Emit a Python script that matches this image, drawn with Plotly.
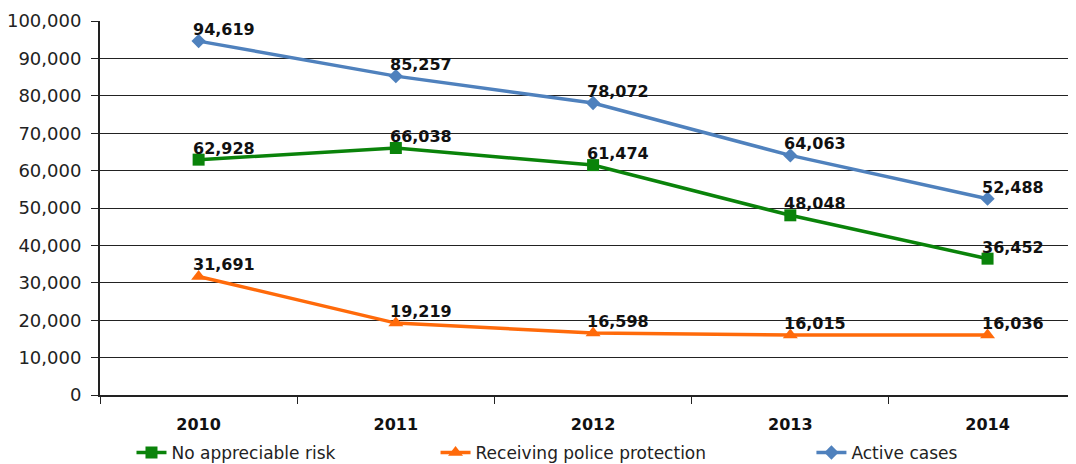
import plotly.graph_objects as go

years = ["2010", "2011", "2012", "2013", "2014"]
no_risk = [62928, 66038, 61474, 48048, 36452]
police = [31691, 19219, 16598, 16015, 16036]
active = [94619, 85257, 78072, 64063, 52488]

FONT = "DejaVu Sans"


def add_series(fig, name, values, color, symbol, size, legend, lx):
    fig.add_trace(go.Scatter(
        x=years, y=values, name=name, mode="lines+markers",
        line=dict(color=color, width=3.5),
        marker=dict(symbol=symbol, size=size, color=color),
        cliponaxis=False, legend=legend, showlegend=True,
    ))
    fig.update_layout({legend: dict(
        x=lx, xanchor="left", y=-0.155, yanchor="middle",
        font=dict(size=17), bgcolor="rgba(0,0,0,0)",
    )})
    # value labels just above each point (category index as x)
    for i, v in enumerate(values):
        fig.add_annotation(
            x=i, y=v, text=f"{v:,}", showarrow=False,
            xanchor="left", yanchor="bottom", xshift=-8, yshift=0,
            font=dict(family=FONT, size=16, color="#111111", weight="bold"),
        )


fig = go.Figure()
add_series(fig, "No appreciable risk", no_risk, "#0a830a", "square", 12, "legend", 0.032)
add_series(fig, "Receiving police protection", police, "#ff6a0a", "triangle-up", 13, "legend2", 0.341)
add_series(fig, "Active cases", active, "#4f81bd", "diamond", 11, "legend3", 0.723)

fig.update_layout(
    width=1076, height=464,
    margin=dict(l=92, r=0, t=13, b=77),
    plot_bgcolor="white", paper_bgcolor="white",
    font=dict(family=FONT, size=17, color="#222222"),
    xaxis=dict(
        type="category", range=[-0.5, 4.489], showgrid=False, automargin=False,
        showline=True, linecolor="#222222", linewidth=2,
        ticks="outside", tickson="boundaries", ticklen=7, tickcolor="#222222",
        ticklabelstandoff=14,
        tickfont=dict(size=16, weight="bold", color="#111111"),
    ),
    yaxis=dict(
        range=[0, 100000], dtick=10000, tickformat=",d", automargin=False,
        showgrid=True, gridcolor="#222222", gridwidth=1,
        showline=True, linecolor="#222222", linewidth=2,
        ticks="outside", ticklen=7, tickcolor="#222222",
        ticklabelstandoff=6,
        tickfont=dict(size=18), zeroline=False,
    ),
)

fig.write_html("out.html")
